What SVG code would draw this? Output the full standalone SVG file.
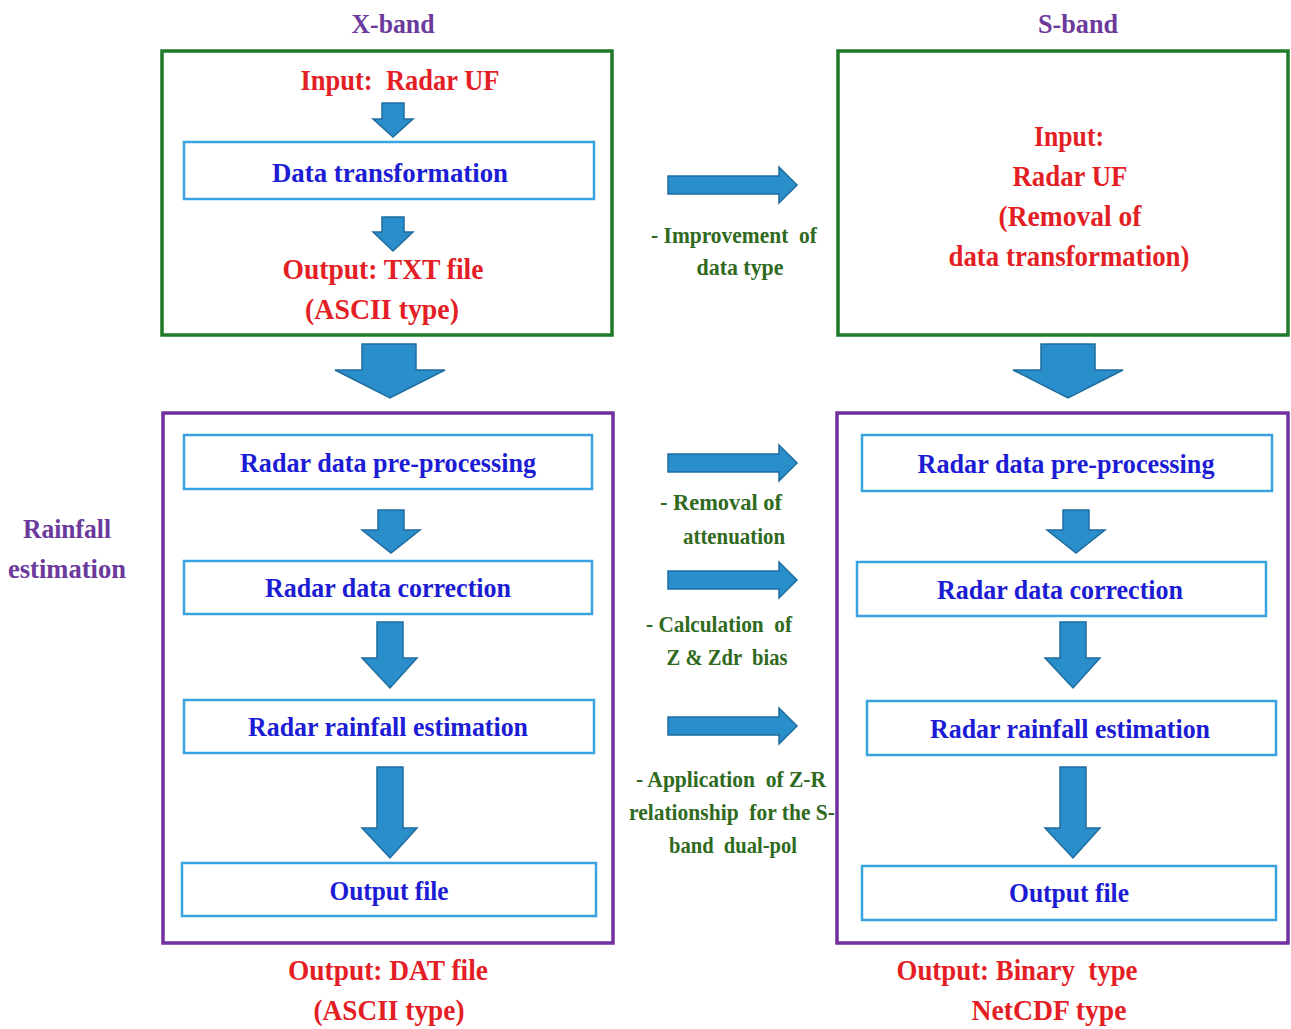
<svg xmlns="http://www.w3.org/2000/svg" width="1291" height="1029" viewBox="0 0 1291 1029">
<style>
text{font-family:"Liberation Serif","Times New Roman",serif;font-weight:bold;text-anchor:middle}
.title{fill:#6B3A9C;font-size:28px}
.red{fill:#E31E25;font-size:30px}
.blue{fill:#1C1CD4;font-size:28px}
.green{fill:#2F6A1E;font-size:23px}
.grn{fill:none;stroke:#1E7A28;stroke-width:3.5}
.pur{fill:none;stroke:#7030A0;stroke-width:3.5}
.inner{fill:#fff;stroke:#3AA2DE;stroke-width:2.5}
.arr{fill:#2A8ECB;stroke:#1F6C9E;stroke-width:1.5;stroke-linejoin:miter}
</style>
<rect width="1291" height="1029" fill="#fff"/>

<g id="labels">
<text class="title" x="393" y="33" textLength="83" lengthAdjust="spacingAndGlyphs">X-band</text>
<text class="title" x="1078" y="33" textLength="80" lengthAdjust="spacingAndGlyphs">S-band</text>
<text class="title" x="67" y="538" textLength="88" lengthAdjust="spacingAndGlyphs">Rainfall</text>
<text class="title" x="67" y="578" textLength="118" lengthAdjust="spacingAndGlyphs">estimation</text>
</g>

<g id="xband-input">
<rect class="grn" x="162" y="51" width="450" height="284"/>
<text class="red" x="400" y="90" textLength="199" lengthAdjust="spacingAndGlyphs" xml:space="preserve">Input:  Radar UF</text>
<text class="red" x="383" y="279" textLength="201" lengthAdjust="spacingAndGlyphs">Output: TXT file</text>
<text class="red" x="382" y="319" textLength="154" lengthAdjust="spacingAndGlyphs">(ASCII type)</text>
</g>
<g id="xband-transform">
<rect class="inner" x="184" y="142" width="410" height="57"/>
<text class="blue" x="390" y="182" textLength="236" lengthAdjust="spacingAndGlyphs">Data transformation</text>
</g>

<g id="sband-input">
<rect class="grn" x="838" y="51" width="450" height="284"/>
<text class="red" x="1069" y="146" textLength="70" lengthAdjust="spacingAndGlyphs">Input:</text>
<text class="red" x="1070" y="186" textLength="115" lengthAdjust="spacingAndGlyphs">Radar UF</text>
<text class="red" x="1070" y="226" textLength="143" lengthAdjust="spacingAndGlyphs">(Removal of</text>
<text class="red" x="1069" y="266" textLength="241" lengthAdjust="spacingAndGlyphs">data transformation)</text>
</g>

<g id="xband-process">
<rect class="pur" x="163" y="413" width="450" height="530"/>
</g>
<g id="x-pre"><rect class="inner" x="184" y="435" width="408" height="54"/>
<text class="blue" x="388" y="472" textLength="296" lengthAdjust="spacingAndGlyphs">Radar data pre-processing</text></g>
<g id="x-corr"><rect class="inner" x="184" y="561" width="408" height="53"/>
<text class="blue" x="388" y="597" textLength="246" lengthAdjust="spacingAndGlyphs">Radar data correction</text></g>
<g id="x-est"><rect class="inner" x="184" y="700" width="410" height="53"/>
<text class="blue" x="388" y="736" textLength="280" lengthAdjust="spacingAndGlyphs">Radar rainfall estimation</text></g>
<g id="x-out"><rect class="inner" x="182" y="863" width="414" height="53"/>
<text class="blue" x="389" y="900" textLength="119" lengthAdjust="spacingAndGlyphs">Output file</text></g>

<g id="sband-process">
<rect class="pur" x="837" y="413" width="451" height="530"/>
</g>
<g id="s-pre"><rect class="inner" x="862" y="435" width="410" height="56"/>
<text class="blue" x="1066" y="473" textLength="297" lengthAdjust="spacingAndGlyphs">Radar data pre-processing</text></g>
<g id="s-corr"><rect class="inner" x="857" y="562" width="409" height="54"/>
<text class="blue" x="1060" y="599" textLength="246" lengthAdjust="spacingAndGlyphs">Radar data correction</text></g>
<g id="s-est"><rect class="inner" x="867" y="701" width="409" height="54"/>
<text class="blue" x="1070" y="738" textLength="280" lengthAdjust="spacingAndGlyphs">Radar rainfall estimation</text></g>
<g id="s-out"><rect class="inner" x="862" y="866" width="414" height="54"/>
<text class="blue" x="1069" y="902" textLength="120" lengthAdjust="spacingAndGlyphs">Output file</text></g>

<g id="outputs">
<text class="red" x="388" y="980" textLength="200" lengthAdjust="spacingAndGlyphs">Output: DAT file</text>
<text class="red" x="389" y="1020" textLength="151" lengthAdjust="spacingAndGlyphs">(ASCII type)</text>
<text class="red" x="1017" y="980" textLength="241" lengthAdjust="spacingAndGlyphs" xml:space="preserve">Output: Binary  type</text>
<text class="red" x="1049" y="1020" textLength="155" lengthAdjust="spacingAndGlyphs">NetCDF type</text>
</g>

<g id="connectors">
<path class="arr" d="M382,103 H404 V119 H413 L393,137 L373,119 H382 Z"/>
<path class="arr" d="M382,217 H404 V232 H413 L393,251 L373,232 H382 Z"/>
<path class="arr" d="M362,344 H416 V370 H445 L390,398 L335,370 H362 Z"/>
<path class="arr" d="M1041,344 H1095 V370 H1123 L1068,398 L1013,370 H1041 Z"/>
<path class="arr" d="M378,510 H404 V530 H420 L391,553 L362,530 H378 Z"/>
<path class="arr" d="M377,622 H403 V658 H417 L390,688 L362,658 H377 Z"/>
<path class="arr" d="M377,767 H403 V828 H417 L390,858 L362,828 H377 Z"/>
<path class="arr" d="M1063,510 H1089 V530 H1105 L1076,553 L1047,530 H1063 Z"/>
<path class="arr" d="M1060,622 H1086 V658 H1100 L1073,688 L1045,658 H1060 Z"/>
<path class="arr" d="M1060,767 H1086 V828 H1100 L1073,858 L1045,828 H1060 Z"/>
<path class="arr" d="M668,176 H779 V167 L797,185 L779,203 V194 H668 Z"/>
<path class="arr" d="M668,454 H779 V445 L797,463 L779,481 V472 H668 Z"/>
<path class="arr" d="M668,571 H779 V562 L797,580 L779,598 V589 H668 Z"/>
<path class="arr" d="M668,717 H779 V708 L797,726 L779,744 V735 H668 Z"/>
</g>

<g id="connector-labels">
<text class="green" x="734" y="243" textLength="166" lengthAdjust="spacingAndGlyphs" xml:space="preserve">- Improvement  of</text>
<text class="green" x="740" y="275" textLength="87" lengthAdjust="spacingAndGlyphs">data type</text>
<text class="green" x="721" y="510" textLength="122" lengthAdjust="spacingAndGlyphs">- Removal of</text>
<text class="green" x="734" y="544" textLength="102" lengthAdjust="spacingAndGlyphs">attenuation</text>
<text class="green" x="719" y="632" textLength="146" lengthAdjust="spacingAndGlyphs" xml:space="preserve">- Calculation  of</text>
<text class="green" x="727" y="665" textLength="121" lengthAdjust="spacingAndGlyphs" xml:space="preserve">Z &amp; Zdr  bias</text>
<text class="green" x="731" y="787" textLength="190" lengthAdjust="spacingAndGlyphs" xml:space="preserve">- Application  of Z-R</text>
<text class="green" x="732" y="820" textLength="206" lengthAdjust="spacingAndGlyphs" xml:space="preserve">relationship  for the S-</text>
<text class="green" x="733" y="853" textLength="128" lengthAdjust="spacingAndGlyphs" xml:space="preserve">band  dual-pol</text>
</g>
</svg>
